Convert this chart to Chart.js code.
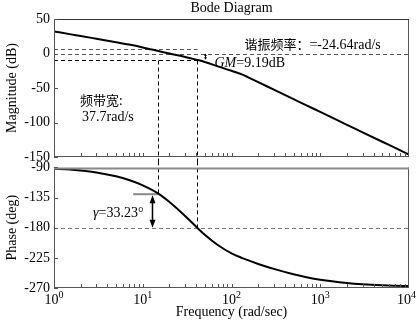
<!DOCTYPE html>
<html>
<head>
<meta charset="utf-8">
<script src="https://cdn.jsdelivr.net/npm/chart.js@4.4.1/dist/chart.umd.min.js"></script>
<style>
  html, body { margin: 0; padding: 0; background: #fff; }
  #wrap { position: relative; width: 417px; height: 325px; overflow: hidden; background: #fff; }
  #wrap canvas { position: absolute; left: 0; }
  #magChart { top: 0; }
  #phaseChart { top: 155px; }
</style>
</head>
<body>
<div id="wrap">
  <canvas id="magChart" width="417" height="180"></canvas>
  <canvas id="phaseChart" width="417" height="170"></canvas>
</div>
<script>
// open-loop frequency response, sampled on a log grid (rad/s)
const freq = [1, 1.5, 2, 3, 5, 7, 10, 15, 20, 30, 40, 50, 70, 100, 135, 150, 200, 300, 500, 700, 1000, 2000, 3000, 5000, 7000, 10000];
const magnitude = [32, 28.1, 25.4, 21.4, 16.3, 12.9, 8.8, 3.6, -0.1, -5.0, -8.9, -12.2, -18.6, -25.1, -31.0, -33.8, -41.5, -52.4, -66.1, -75.1, -84.7, -103.3, -114.2, -127.9, -136.9, -146.5];
const phase = [-92, -93.1, -94.6, -97.6, -103.3, -108.9, -116.9, -129.2, -141.7, -162.5, -178.5, -190.5, -205.8, -218.2, -225.7, -228.1, -234.1, -241.5, -249.5, -253.9, -257.6, -262.4, -264.3, -265.9, -266.6, -267.2];

const decades = [0, 1, 2, 3, 4];
const magTicks = [-150, 50, 50];     // min, max, step
const phaseTicks = [-270, -90, 45];

// margins
const wc = 14.9;       // gain crossover
const wg = 40.8;       // phase crossover
const gmDb = -9.19;
const peakDb = 7;
const pmPhase = -130;

const serif = '"Liberation Serif", "Times New Roman", serif';
const cjk = '"Noto Sans CJK SC", sans-serif';

Chart.defaults.font.family = serif;
Chart.defaults.font.size = 14;
Chart.defaults.color = '#000';

function line(ctx, x1, y1, x2, y2) {
  ctx.beginPath();
  ctx.moveTo(x1, y1);
  ctx.lineTo(x2, y2);
  ctx.stroke();
}

function runs(ctx, x, y, parts) {
  let cx = x;
  parts.forEach(([text, font]) => {
    ctx.font = font;
    ctx.fillText(text, cx, y);
    cx += ctx.measureText(text).width;
  });
}

function frame(chart, topColor, topWidth) {
  const { ctx, chartArea: a, scales: { x, y } } = chart;
  ctx.save();
  ctx.strokeStyle = '#555';
  ctx.lineWidth = 1;
  line(ctx, a.left + 0.5, a.top, a.left + 0.5, a.bottom);
  line(ctx, a.right - 0.5, a.top, a.right - 0.5, a.bottom);
  line(ctx, a.left, a.bottom - 0.5, a.right, a.bottom - 0.5);
  ctx.strokeStyle = topColor;
  ctx.lineWidth = topWidth;
  line(ctx, a.left, a.top + topWidth / 2, a.right, a.top + topWidth / 2);

  // inward ticks
  ctx.strokeStyle = '#555';
  ctx.lineWidth = 1;
  y.ticks.forEach(t => {
    const py = Math.round(y.getPixelForValue(t.value)) + 0.5;
    line(ctx, a.left, py, a.left + 4, py);
  });
  for (let k = 0; k < 4; k++) {
    for (let m = 1; m < 10; m++) {
      const px = Math.round(x.getPixelForValue(m * Math.pow(10, k))) + 0.5;
      line(ctx, px, a.bottom, px, a.bottom - 4);
    }
  }
  ctx.restore();
}

function arrowHead(ctx, px, py, dir, w, h) {
  ctx.beginPath();
  ctx.moveTo(px, py);
  ctx.lineTo(px - w / 2, py + dir * h);
  ctx.lineTo(px + w / 2, py + dir * h);
  ctx.closePath();
  ctx.fill();
}

const magGuides = {
  id: 'magGuides',
  beforeDatasetsDraw(chart) {
    const { ctx, chartArea: a, scales: { x, y } } = chart;
    ctx.save();
    ctx.lineWidth = 1;
    ctx.setLineDash([4, 3]);
    const yPeak = Math.round(y.getPixelForValue(peakDb)) + 0.5;
    const y0 = Math.round(y.getPixelForValue(0)) + 0.5;
    const yGm = Math.round(y.getPixelForValue(gmDb)) + 0.5;
    const xc = Math.round(x.getPixelForValue(wc)) + 0.5;
    const xg = Math.round(x.getPixelForValue(wg)) + 0.5;
    ctx.strokeStyle = '#555';
    line(ctx, a.left, yPeak, xg, yPeak);
    line(ctx, a.left, y0, a.right, y0);
    ctx.strokeStyle = '#000';
    line(ctx, a.left, yGm, xg, yGm);
    line(ctx, xc, yGm, xc, a.bottom + 6);
    line(ctx, xg, yGm, xg, a.bottom + 6);
    ctx.restore();
  },
  afterDraw(chart) {
    const { ctx, chartArea: a, scales: { x, y } } = chart;
    frame(chart, '#333', 1);
    ctx.save();
    // gain margin arrow
    const xa = Math.round(x.getPixelForValue(50)) + 0.5;
    const y0 = y.getPixelForValue(0);
    const yGm = y.getPixelForValue(gmDb);
    ctx.strokeStyle = '#000';
    ctx.fillStyle = '#000';
    ctx.lineWidth = 1;
    line(ctx, xa, y0 + 2, xa, yGm - 2);
    arrowHead(ctx, xa, y0, 1, 3, 2.5);
    arrowHead(ctx, xa, yGm, -1, 3, 2.5);

    ctx.textBaseline = 'alphabetic';
    ctx.textAlign = 'left';
    runs(ctx, xa + 9, yGm + 7.5, [['GM', 'italic 14px ' + serif], ['=9.19dB', '14px ' + serif]]);
    runs(ctx, x.getPixelForValue(140), y0 - 5, [['谐振频率：', '13px ' + cjk], ['=-24.64rad/s', '14px ' + serif]]);
    runs(ctx, x.getPixelForValue(1.96), y.getPixelForValue(-74), [['频带宽:', '13px ' + cjk]]);
    runs(ctx, x.getPixelForValue(2.07), y.getPixelForValue(-98), [['37.7rad/s', '14px ' + serif]]);

    ctx.textAlign = 'center';
    ctx.textBaseline = 'middle';
    ctx.font = '14px ' + serif;
    ctx.fillText('Bode Diagram', (a.left + a.right) / 2, 8);
    ctx.restore();
  }
};

const phaseGuides = {
  id: 'phaseGuides',
  beforeDatasetsDraw(chart) {
    const { ctx, chartArea: a, scales: { x, y } } = chart;
    ctx.save();
    ctx.lineWidth = 1;
    ctx.setLineDash([4, 3]);
    const y180 = Math.round(y.getPixelForValue(-180)) + 0.5;
    const yPm = y.getPixelForValue(pmPhase);
    const xc = Math.round(x.getPixelForValue(wc)) + 0.5;
    const xg = Math.round(x.getPixelForValue(wg)) + 0.5;
    ctx.strokeStyle = '#777';
    line(ctx, a.left, y180, a.right, y180);
    ctx.strokeStyle = '#000';
    line(ctx, xc, a.top - 6, xc, yPm);
    line(ctx, xg, a.top - 6, xg, y180);
    ctx.setLineDash([]);
    ctx.strokeStyle = '#888';
    ctx.lineWidth = 2;
    line(ctx, x.getPixelForValue(7.8), yPm, xc, yPm);
    ctx.restore();
  },
  afterDraw(chart) {
    const { ctx, chartArea: a, scales: { x, y } } = chart;
    frame(chart, '#888', 2);
    ctx.save();
    // phase margin arrow
    const xa = Math.round(x.getPixelForValue(12.7)) + 0.5;
    const yPm = y.getPixelForValue(pmPhase) + 1;
    const y180 = y.getPixelForValue(-180);
    ctx.strokeStyle = '#000';
    ctx.fillStyle = '#000';
    ctx.lineWidth = 1.5;
    line(ctx, xa, yPm + 6, xa, y180 - 6);
    arrowHead(ctx, xa, yPm, 1, 6, 8);
    arrowHead(ctx, xa, y180, -1, 6, 8);

    ctx.textAlign = 'left';
    ctx.textBaseline = 'middle';
    runs(ctx, x.getPixelForValue(2.75), y.getPixelForValue(-158), [['γ', 'italic 14px ' + serif], ['=33.23°', '14px ' + serif]]);

    // decade labels 10^k, centred as a whole on the tick
    ctx.textBaseline = 'alphabetic';
    decades.forEach(k => {
      const px = x.getPixelForValue(Math.pow(10, k));
      ctx.font = '14px ' + serif;
      const w = ctx.measureText('10').width;
      ctx.font = '10px ' + serif;
      const e = ctx.measureText(String(k)).width;
      const left = Math.min(px - (w + e) / 2, chart.width - w - e - 1);
      ctx.fillText(String(k), left + w, a.bottom + 10);
      ctx.font = '14px ' + serif;
      ctx.fillText('10', left, a.bottom + 16);
    });
    ctx.restore();
  }
};

function bodeChart(id, values, ticks, title, pad, xHeight, plugin) {
  return new Chart(document.getElementById(id), {
    type: 'line',
    data: {
      labels: freq,
      datasets: [{
        data: freq.map((f, i) => ({ x: f, y: values[i] })),
        borderColor: '#000',
        borderWidth: 2,
        pointRadius: 0,
        cubicInterpolationMode: 'monotone',
        fill: false
      }]
    },
    options: {
      responsive: false,
      animation: false,
      events: [],
      layout: { padding: pad },
      plugins: { legend: { display: false }, tooltip: { enabled: false } },
      scales: {
        x: {
          type: 'logarithmic',
          min: 1,
          max: 10000,
          grid: { display: false, drawTicks: false },
          border: { display: false },
          ticks: { display: false },
          title: { display: xHeight > 0, text: 'Frequency (rad/sec)', padding: { top: 0, bottom: 4 } },
          afterFit: s => { s.height = xHeight; }
        },
        y: {
          min: ticks[0],
          max: ticks[1],
          grid: { display: false, drawTicks: false },
          border: { display: false },
          ticks: { stepSize: ticks[2], padding: 4 },
          title: { display: true, text: title, padding: { top: 4, bottom: 0 } },
          afterFit: s => { s.width = 54; }
        }
      }
    },
    plugins: [plugin]
  });
}

bodeChart('magChart', magnitude, magTicks, 'Magnitude (dB)', { top: 19, right: 8, bottom: 23, left: 0 }, 0, magGuides);
bodeChart('phaseChart', phase, phaseTicks, 'Phase (deg)', { top: 11, right: 8, bottom: 0, left: 0 }, 37, phaseGuides);
</script>
</body>
</html>
